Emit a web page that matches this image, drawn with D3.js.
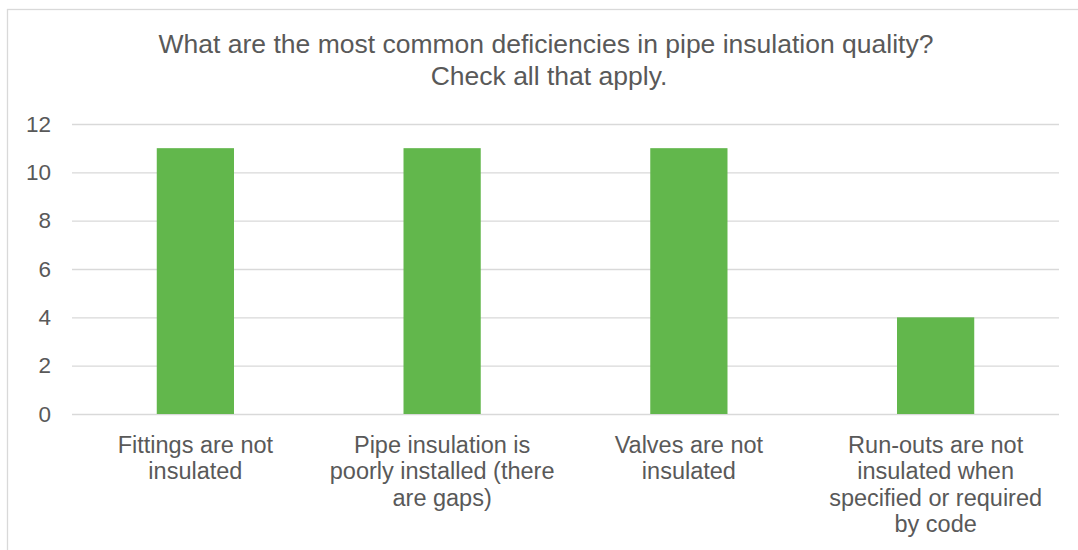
<!DOCTYPE html>
<meta charset="utf-8">
<head>
  <title>Pipe insulation deficiencies</title>
</head>
<style>
  body { margin: 0; background: #fff; }
  text { font-family: Arial, "Liberation Sans", sans-serif; fill: #595959; }
</style>
<script src="https://d3js.org/d3.v7.min.js"></script>
<div id="my_dataviz"></div>
<script>
  // chart data
  var categories = [
    ["Fittings are not", "insulated"],
    ["Pipe insulation is", "poorly installed (there", "are gaps)"],
    ["Valves are not", "insulated"],
    ["Run-outs are not", "insulated when", "specified or required", "by code"]
  ];
  var counts = [11, 11, 11, 4];
  var yTicks = [0, 2, 4, 6, 8, 10, 12];
  var titleLines = ["What are the most common deficiencies in pipe insulation quality?",
    "Check all that apply."];

  var W = 1078, H = 550;
  var margin = { top: 124, right: 19, bottom: 136, left: 72 },
    width = W - margin.left - margin.right,
    height = H - margin.top - margin.bottom;

  var svg = d3.select("#my_dataviz")
    .append("svg")
    .attr("width", W)
    .attr("height", H);

  // chart border (right and bottom run off the picture)
  svg.append("rect")
    .attr("x", 7.5)
    .attr("y", 9.5)
    .attr("width", W + 20)
    .attr("height", H + 20)
    .style("fill", "none")
    .style("stroke", "#d9d9d9")
    .style("stroke-width", 1.3);

  // title
  svg.append("text")
    .attr("x", 546)
    .attr("y", 53)
    .style("text-anchor", "middle")
    .style("font-size", "26.5px")
    .selectAll("tspan")
    .data(titleLines)
    .enter().append("tspan")
    .attr("x", function(d, i) { return i === 0 ? 546 : 549; })
    .attr("dy", function(d, i) { return i === 0 ? 0 : 31.7; })
    .text(function(d) { return d; });

  var g = svg.append("g")
    .attr("transform", "translate(" + margin.left + "," + margin.top + ")");

  var x = d3.scaleBand()
    .domain(d3.range(categories.length))
    .range([0, width])
    .padding(0);

  var y = d3.scaleLinear()
    .domain([0, 12])
    .range([height, 0]);

  // gridlines
  g.append("g")
    .call(d3.axisLeft(y).tickValues(yTicks).tickSize(-width).tickFormat(""))
    .call(function(a) {
      a.select(".domain").remove();
      a.selectAll("line").style("stroke", "#d9d9d9").style("stroke-width", 1.3);
    });

  // y tick labels
  g.append("g")
    .call(d3.axisLeft(y).tickValues(yTicks).tickSize(0).tickPadding(21))
    .call(function(a) {
      a.select(".domain").remove();
      a.selectAll("text")
        .style("font-size", "22.5px")
        .style("fill", "#595959")
        .style("font-family", "Arial, 'Liberation Sans', sans-serif");
    });

  // bars
  var barW = x.bandwidth() * 0.313;
  g.selectAll(".bar")
    .data(counts)
    .enter().append("rect")
    .attr("class", "bar")
    .attr("x", function(d, i) { return x(i) + x.bandwidth() / 2 - barW / 2; })
    .attr("width", barW)
    .attr("y", function(d) { return y(d); })
    .attr("height", function(d) { return height - y(d); })
    .style("fill", "#62b74c");

  // category labels
  var labels = g.selectAll(".cat")
    .data(categories)
    .enter().append("text")
    .attr("class", "cat")
    .attr("transform", function(d, i) {
      return "translate(" + (x(i) + x.bandwidth() / 2) + "," + (height + 39) + ")";
    })
    .style("text-anchor", "middle")
    .style("font-size", "23.5px");

  labels.selectAll("tspan")
    .data(function(d) { return d; })
    .enter().append("tspan")
    .attr("x", 0)
    .attr("dy", function(d, i) { return i === 0 ? 0 : 26.3; })
    .text(function(d) { return d; });
</script>
